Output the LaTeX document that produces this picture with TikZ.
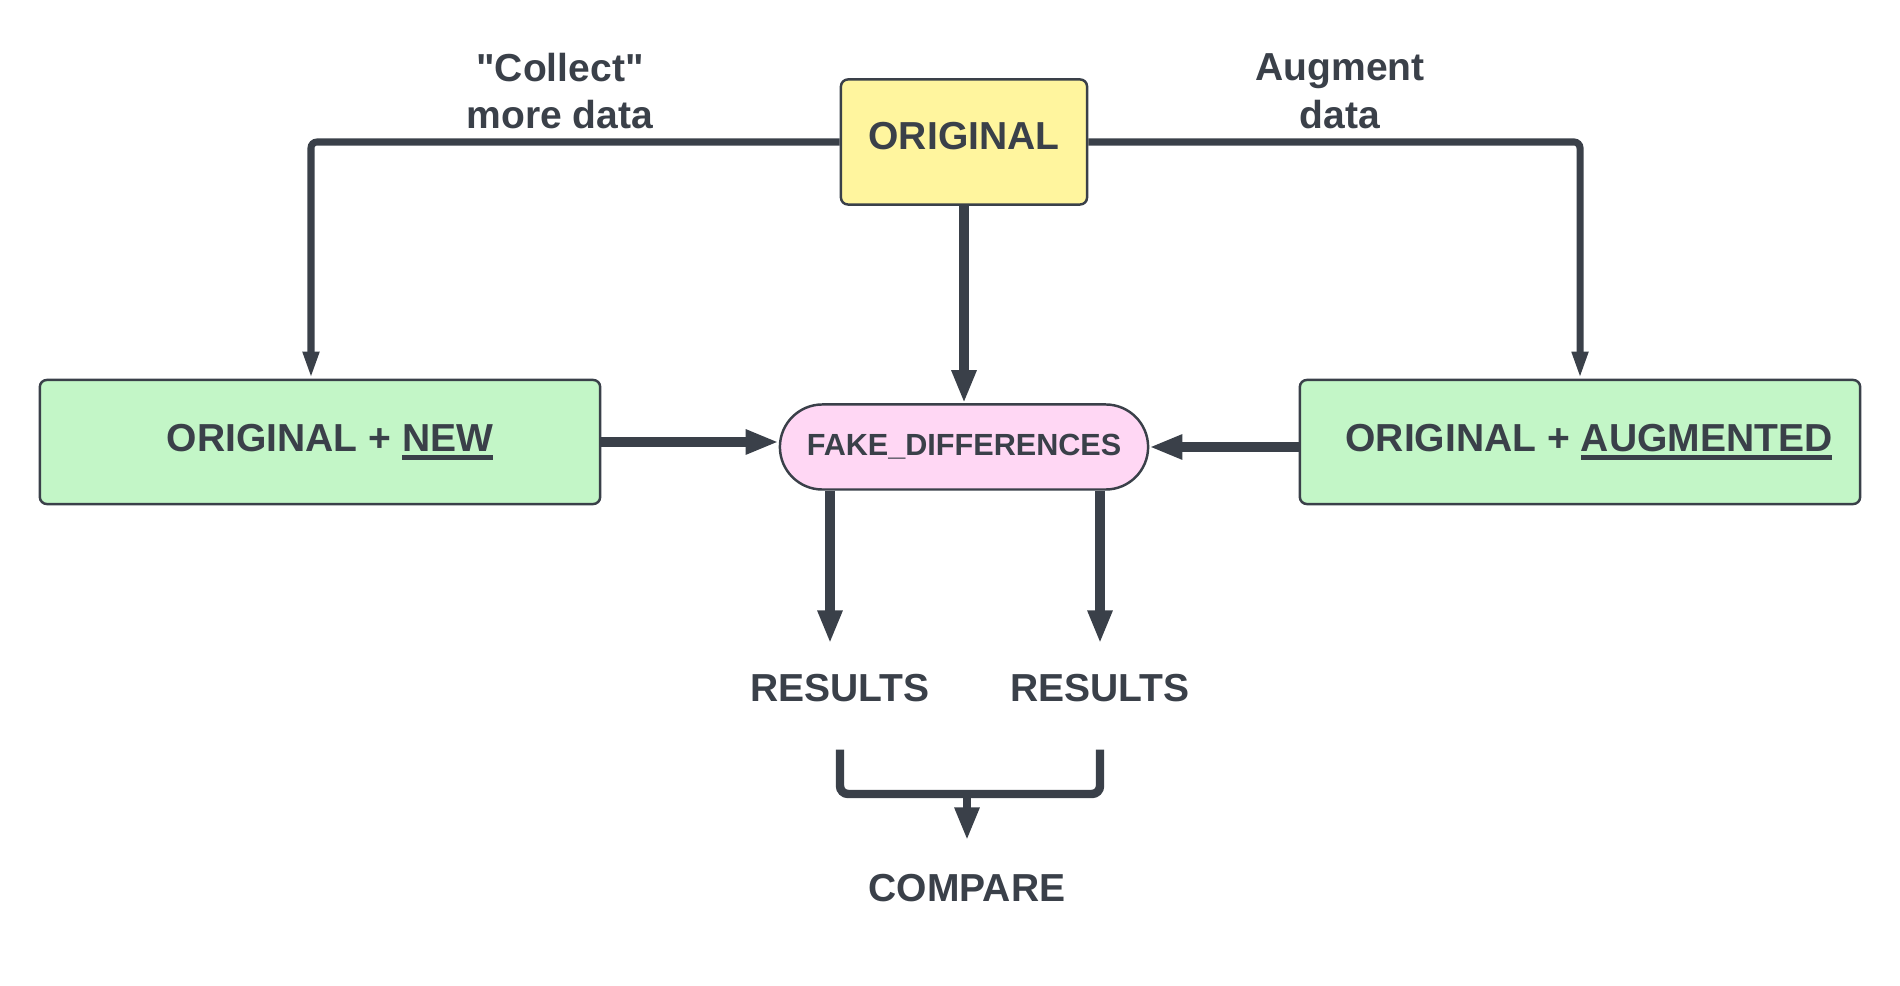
\documentclass[tikz,border=0pt]{standalone}
\usepackage{fontspec}
\setmainfont{Liberation Sans}
\usepackage{tikz}
\definecolor{ink}{HTML}{3A4049}
\definecolor{yellowbox}{HTML}{FFF59E}
\definecolor{greenbox}{HTML}{C3F6C7}
\definecolor{pinkbox}{HTML}{FFD7F4}
\usetikzlibrary{arrows.meta}
\usetikzlibrary{shapes.misc}
\newcommand{\undl}[1]{\leavevmode\vtop{\hbox{#1}\kern1.1pt\hrule height 1.3pt}}
\tikzset{
	box/.style={rectangle,rounded corners=0.07cm,draw=ink,line width=0.7pt,text=ink,
		font=\fontsize{11.1}{13.6}\selectfont\bfseries,inner sep=0pt},
	orgbox/.style={box,fill=yellowbox,minimum width=2.46cm,minimum height=1.25cm,text depth=0.12cm},
	mixbox/.style={box,fill=greenbox,minimum width=5.6cm,minimum height=1.24cm},
	fakebox/.style={rounded rectangle,draw=ink,line width=0.7pt,fill=pinkbox,text=ink,
		font=\fontsize{8.7}{10}\selectfont\bfseries,minimum width=3.68cm,minimum height=0.85cm,inner sep=0pt},
	labl/.style={text=ink,align=center,inner sep=0pt,font=\fontsize{11.1}{13.6}\selectfont\bfseries},
	thinarrow/.style={draw=ink,line width=2pt,rounded corners=0.06cm,-{Triangle[length=0.27cm,width=0.15cm]}},
	thickarrow/.style={draw=ink,line width=2.9pt,-{Triangle[length=0.33cm,width=0.23cm]}},
	bracket/.style={draw=ink,line width=2.4pt,rounded corners=0.08cm},
	}

\begin{document}
\begin{tikzpicture}[x=0.01cm,y=-0.01cm]
\useasboundingbox (0,0) rectangle (1900,986);

\node (org) at (964,142) [orgbox] {ORIGINAL};
\node (orgnew) at (320,442) [mixbox] {\hspace{0.2cm}ORIGINAL + \undl{NEW}};
\node (orgaug) at (1580,442) [mixbox] {\hspace{0.18cm}ORIGINAL + \undl{AUGMENTED}};
\node (fake) at (964,447) [fakebox] {FAKE\_DIFFERENCES};

\node (collect) at (560,91) [labl] {\textquotedbl Collect\textquotedbl\\more data};
\node (augment) at (1340,91) [labl] {Augment\\data};

\node (res1) at (840,688) [labl] {RESULTS};
\node (res2) at (1100,688) [labl] {RESULTS};
\node (cmp) at (967,888) [labl] {COMPARE};
\coordinate (mrg) at (967,794);

  \draw[thinarrow] (org.west) -| ([xshift=-0.09cm]orgnew.north);
  \draw[thinarrow] (org.east) -| (orgaug.north);
  \draw[thickarrow] (org.south) -- (fake.north);
  \draw[thickarrow] (orgnew.east) -- (orgnew.east -| fake.west);
  \draw[thickarrow] (fake.east -| orgaug.west) -- (fake.east);
  \foreach \r/\s in {res1/-0.1cm,res2/0cm}
  \draw[thickarrow,shorten >=0.3cm] ([xshift=\s]fake.south -| \r) -- ([xshift=\s]\r.north);
  \draw[bracket] ([yshift=-0.47cm]res1.south) |- (mrg) -| ([yshift=-0.47cm]res2.south);
  \draw[thickarrow,line width=2.4pt,shorten >=0.33cm] (mrg) -- (cmp.north);
\end{tikzpicture}
\end{document}
